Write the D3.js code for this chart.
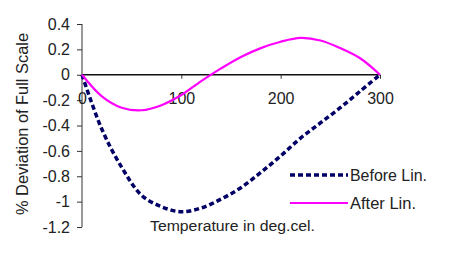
<!DOCTYPE html>
<html>
<head>
<meta charset="utf-8">
<script src="https://cdn.jsdelivr.net/npm/d3@7"></script>
<style>
  body { margin: 0; background: #fff; }
  text { font-family: "Liberation Sans", Arial, sans-serif; fill: #222; }
</style>
</head>
<body>
<svg id="chart" width="463" height="261"></svg>
<script>
const temps = [0, 20, 40, 60, 80, 100, 120, 140, 160, 180, 200, 220, 240, 260, 280, 300];
const beforeLin = [0, -0.43, -0.73, -0.95, -1.04, -1.08, -1.05, -0.98, -0.89, -0.77, -0.64, -0.5, -0.38, -0.26, -0.13, 0];
const afterLin = [0, -0.17, -0.26, -0.28, -0.24, -0.16, -0.05, 0.05, 0.14, 0.21, 0.26, 0.29, 0.27, 0.21, 0.13, 0];
const xTicks = [0, 100, 200, 300];
const yTicks = [0.4, 0.2, 0, -0.2, -0.4, -0.6, -0.8, -1, -1.2];

const svg = d3.select("#chart");

const x = d3.scaleLinear().domain([0, 300]).range([82, 380]);
const y = d3.scaleLinear().domain([-1.2, 0.4]).range([227, 24]);

// y axis
const yAxis = d3.axisLeft(y)
  .tickValues(yTicks)
  .tickSize(5)
  .tickPadding(7)
  .tickFormat(d => String(Math.round(d * 10) / 10));
const gy = svg.append("g").attr("transform", `translate(${x(0)},0)`).call(yAxis);
gy.select(".domain").attr("stroke", "#333").attr("d", `M0,${y(0.4)}V${y(-1.2)}`);
gy.selectAll(".tick line").attr("stroke", "#333");
gy.selectAll("text").style("font-size", "16px").attr("fill", "#222")
  .style("font-family", "'Liberation Sans', Arial, sans-serif");

// x axis at zero
const xAxis = d3.axisBottom(x).tickValues(xTicks).tickSize(4).tickPadding(14);
const gx = svg.append("g").attr("transform", `translate(0,${y(0)})`).call(xAxis);
gx.select(".domain").attr("stroke", "#111").attr("stroke-width", 1.3).attr("d", `M${x(0)},0H${x(300)}`);
gx.selectAll(".tick line").attr("stroke", "#333");
gx.selectAll("text").style("font-size", "16px").attr("fill", "#222")
  .style("font-family", "'Liberation Sans', Arial, sans-serif");

const line = d3.line()
  .x((d, i) => x(temps[i]))
  .y(d => y(d))
  .curve(d3.curveCatmullRom);

svg.append("path")
  .datum(beforeLin)
  .attr("d", line)
  .attr("fill", "none")
  .attr("stroke", "#000066")
  .attr("stroke-width", 3.5)
  .attr("stroke-dasharray", "5,3");

svg.append("path")
  .datum(afterLin)
  .attr("d", line)
  .attr("fill", "none")
  .attr("stroke", "#ff00ff")
  .attr("stroke-width", 2.2);

// axis titles
svg.append("text")
  .attr("transform", `translate(28,124) rotate(-90)`)
  .attr("text-anchor", "middle")
  .attr("textLength", 182)
  .attr("lengthAdjust", "spacingAndGlyphs")
  .style("font-size", "16px")
  .text("% Deviation of Full Scale");

svg.append("text")
  .attr("x", 232.5)
  .attr("y", 231)
  .attr("text-anchor", "middle")
  .attr("textLength", 165)
  .attr("lengthAdjust", "spacingAndGlyphs")
  .style("font-size", "15.5px")
  .text("Temperature in deg.cel.");

// legend
const legend = [
  { label: "Before Lin.", color: "#000066", width: 3.5, dash: "5,3", y: 175, len: 77 },
  { label: "After Lin.", color: "#ff00ff", width: 2.2, dash: null, y: 203, len: 66 }
];
const lg = svg.append("g");
legend.forEach(d => {
  lg.append("line")
    .attr("x1", 290).attr("x2", 348)
    .attr("y1", d.y).attr("y2", d.y)
    .attr("stroke", d.color)
    .attr("stroke-width", d.width)
    .attr("stroke-dasharray", d.dash);
  lg.append("text")
    .attr("x", 350).attr("y", d.y + 6)
    .attr("textLength", d.len)
    .attr("lengthAdjust", "spacingAndGlyphs")
    .style("font-size", "16px")
    .text(d.label);
});
</script>
</body>
</html>
